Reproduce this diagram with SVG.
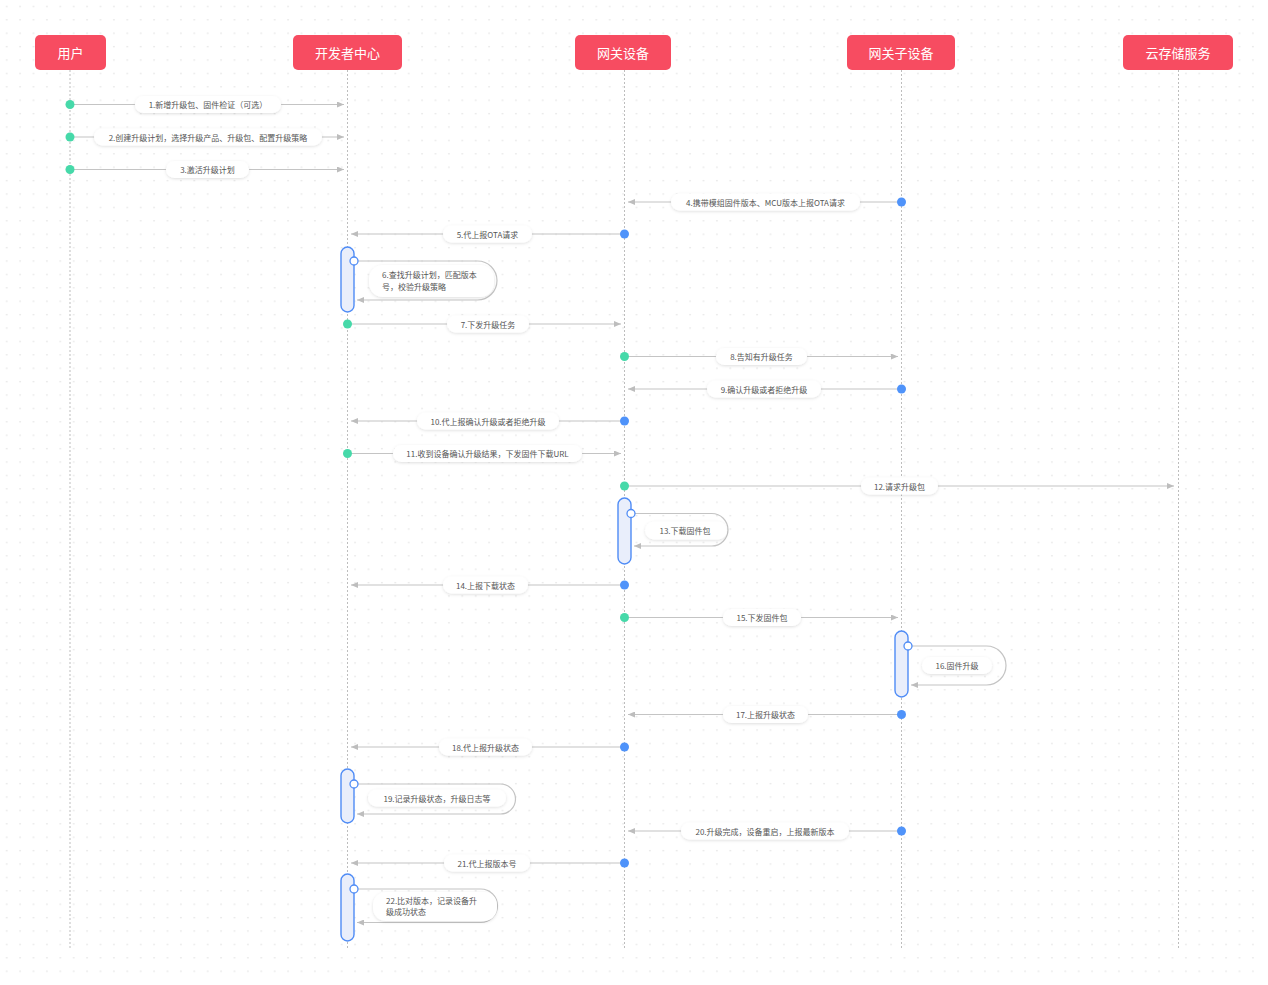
<svg xmlns="http://www.w3.org/2000/svg" width="1268" height="985" viewBox="0 0 1268 985">
<style>
.hdr{fill:#F74C61}
.hdrt{fill:#fff;font-family:"Noto Sans CJK SC","Noto Sans",sans-serif;font-size:13px;text-anchor:middle;dominant-baseline:central}
.life{stroke:#bdbdbd;stroke-width:1;stroke-dasharray:2 2;fill:none}
.msg{stroke:#c4c4c4;stroke-width:1.2;fill:none;marker-end:url(#ah)}
.pill{fill:#fff;filter:url(#sh)}
.lbl{fill:#555;font-family:"Noto Sans CJK SC","Noto Sans",sans-serif;font-size:8px;text-anchor:middle;dominant-baseline:central}
.lbll{fill:#555;font-family:"Noto Sans CJK SC","Noto Sans",sans-serif;font-size:8px;dominant-baseline:central}
.g{fill:#46D9A9}
.b{fill:#4F93FA}
.act{fill:#E9EEFB;stroke:#4F8CF6;stroke-width:1.4}
.ring{fill:#fff;stroke:#4F8CF6;stroke-width:1.3}
.loop{stroke:#c4c4c4;stroke-width:1.2;fill:none;marker-end:url(#ah)}
</style>
<defs>
<pattern id="grid" x="0" y="0" width="13.4" height="13.4" patternUnits="userSpaceOnUse">
<circle cx="6.7" cy="6.4" r="0.75" fill="#dcdcdc"/>
</pattern>
<marker id="ah" markerWidth="7" markerHeight="6" refX="7" refY="3" orient="auto" markerUnits="userSpaceOnUse">
<path d="M0,0 L7,3 L0,6 z" fill="#bdbdbd"/>
</marker>
<filter id="sh" x="-20%" y="-50%" width="140%" height="200%">
<feDropShadow dx="0" dy="1" stdDeviation="1.4" flood-color="#000" flood-opacity="0.13"/>
</filter>
</defs>
<rect x="0" y="0" width="1268" height="985" fill="#fff"/>
<rect x="0" y="0" width="1262" height="982" fill="url(#grid)"/>

<g id="lifelines">
<line class="life" x1="70" y1="70" x2="70" y2="950"/>
<line class="life" x1="347.5" y1="70" x2="347.5" y2="950"/>
<line class="life" x1="624.5" y1="70" x2="624.5" y2="950"/>
<line class="life" x1="901.5" y1="70" x2="901.5" y2="950"/>
<line class="life" x1="1178.5" y1="70" x2="1178.5" y2="950"/>
</g>

<g id="node-user"><rect class="hdr" x="35" y="35" width="71" height="35" rx="5"/><text class="hdrt" x="70.5" y="52.5">用户</text></g>
<g id="node-devcenter"><rect class="hdr" x="293" y="35" width="109" height="35" rx="5"/><text class="hdrt" x="347.5" y="52.5">开发者中心</text></g>
<g id="node-gateway"><rect class="hdr" x="575" y="35" width="96" height="35" rx="5"/><text class="hdrt" x="623" y="52.5">网关设备</text></g>
<g id="node-subdevice"><rect class="hdr" x="847" y="35" width="108" height="35" rx="5"/><text class="hdrt" x="901" y="52.5">网关子设备</text></g>
<g id="node-cloud"><rect class="hdr" x="1123" y="35" width="110" height="35" rx="5"/><text class="hdrt" x="1178" y="52.5">云存储服务</text></g>

<g id="activations">
<rect class="act" x="341" y="247" width="13" height="65" rx="6.5"/>
<rect class="act" x="618" y="498" width="13" height="66" rx="6.5"/>
<rect class="act" x="895" y="631" width="13" height="66" rx="6.5"/>
<rect class="act" x="341" y="769" width="13" height="54" rx="6.5"/>
<rect class="act" x="341" y="874" width="13" height="67" rx="6.5"/>
</g>

<g id="connectors">
<line class="msg" x1="70" y1="104.5" x2="344" y2="104.5"/>
<line class="msg" x1="70" y1="137" x2="344" y2="137"/>
<line class="msg" x1="70" y1="169.5" x2="344" y2="169.5"/>
<line class="msg" x1="901.5" y1="202" x2="628" y2="202"/>
<line class="msg" x1="624.5" y1="234" x2="351" y2="234"/>
<path class="loop" d="M354,261 H477.5 A19.5,19.5 0 0 1 477.5,300 H357"/>
<line class="msg" x1="347.5" y1="324" x2="621" y2="324"/>
<line class="msg" x1="624.5" y1="356.5" x2="898" y2="356.5"/>
<line class="msg" x1="901.5" y1="389" x2="628" y2="389"/>
<line class="msg" x1="624.5" y1="421" x2="351" y2="421"/>
<line class="msg" x1="347.5" y1="453.5" x2="621" y2="453.5"/>
<line class="msg" x1="624.5" y1="486" x2="1174" y2="486"/>
<path class="loop" d="M631,513.5 H711.75 A16.25,16.25 0 0 1 711.75,546 H634"/>
<line class="msg" x1="624.5" y1="585" x2="351" y2="585"/>
<line class="msg" x1="624.5" y1="617.5" x2="898" y2="617.5"/>
<path class="loop" d="M908,646 H986.5 A19.5,19.5 0 0 1 986.5,685 H911"/>
<line class="msg" x1="901.5" y1="714.5" x2="628" y2="714.5"/>
<line class="msg" x1="624.5" y1="747" x2="351" y2="747"/>
<path class="loop" d="M354,784 H500.5 A15,15 0 0 1 500.5,814 H357"/>
<line class="msg" x1="901.5" y1="831" x2="628" y2="831"/>
<line class="msg" x1="624.5" y1="863" x2="351" y2="863"/>
<path class="loop" d="M354,889 H480.75 A16.75,16.75 0 0 1 480.75,922.5 H357"/>
</g>

<g id="dots">
<circle class="g" cx="70" cy="104.5" r="4.5"/>
<circle class="g" cx="70" cy="137" r="4.5"/>
<circle class="g" cx="70" cy="169.5" r="4.5"/>
<circle class="b" cx="901.5" cy="202" r="4.5"/>
<circle class="b" cx="624.5" cy="234" r="4.5"/>
<circle class="ring" cx="354" cy="261" r="4"/>
<circle class="g" cx="347.5" cy="324" r="4.5"/>
<circle class="g" cx="624.5" cy="356.5" r="4.5"/>
<circle class="b" cx="901.5" cy="389" r="4.5"/>
<circle class="b" cx="624.5" cy="421" r="4.5"/>
<circle class="g" cx="347.5" cy="453.5" r="4.5"/>
<circle class="g" cx="624.5" cy="486" r="4.5"/>
<circle class="ring" cx="631" cy="513.5" r="4"/>
<circle class="b" cx="624.5" cy="585" r="4.5"/>
<circle class="g" cx="624.5" cy="617.5" r="4.5"/>
<circle class="ring" cx="908" cy="646" r="4"/>
<circle class="b" cx="901.5" cy="714.5" r="4.5"/>
<circle class="b" cx="624.5" cy="747" r="4.5"/>
<circle class="ring" cx="354" cy="784" r="4"/>
<circle class="b" cx="901.5" cy="831" r="4.5"/>
<circle class="b" cx="624.5" cy="863" r="4.5"/>
<circle class="ring" cx="354" cy="889" r="4"/>
</g>

<g id="labels">
<g id="m1"><rect class="pill" x="135" y="96" width="146" height="17" rx="8.5"/><text class="lbl" x="208" y="104.5">1.新增升级包、固件检证（可选）</text></g>
<g id="m2"><rect class="pill" x="94" y="128.5" width="228" height="17" rx="8.5"/><text class="lbl" x="208" y="137">2.创建升级计划，选择升级产品、升级包、配置升级策略</text></g>
<g id="m3"><rect class="pill" x="166" y="161" width="83" height="17" rx="8.5"/><text class="lbl" x="207.5" y="169.5">3.激活升级计划</text></g>
<g id="m4"><rect class="pill" x="671" y="193.5" width="189" height="17" rx="8.5"/><text class="lbl" x="765.5" y="202">4.携带模组固件版本、MCU版本上报OTA请求</text></g>
<g id="m5"><rect class="pill" x="443" y="225.5" width="89" height="17" rx="8.5"/><text class="lbl" x="487.5" y="234">5.代上报OTA请求</text></g>
<g id="m6"><rect class="pill" x="369" y="265" width="125" height="32" rx="14"/><text class="lbll" x="382" y="274.5">6.查找升级计划，匹配版本</text><text class="lbll" x="382" y="286.5">号，校验升级策略</text></g>
<g id="m7"><rect class="pill" x="447" y="315.5" width="82" height="17" rx="8.5"/><text class="lbl" x="488" y="324">7.下发升级任务</text></g>
<g id="m8"><rect class="pill" x="716" y="348" width="91" height="17" rx="8.5"/><text class="lbl" x="761.5" y="356.5">8.告知有升级任务</text></g>
<g id="m9"><rect class="pill" x="707" y="380.5" width="114" height="17" rx="8.5"/><text class="lbl" x="764" y="389">9.确认升级或者拒绝升级</text></g>
<g id="m10"><rect class="pill" x="417" y="412.5" width="142" height="17" rx="8.5"/><text class="lbl" x="488" y="421">10.代上报确认升级或者拒绝升级</text></g>
<g id="m11"><rect class="pill" x="393" y="445" width="189" height="17" rx="8.5"/><text class="lbl" x="487.5" y="453.5">11.收到设备确认升级结果，下发固件下载URL</text></g>
<g id="m12"><rect class="pill" x="861" y="477.5" width="77" height="17" rx="8.5"/><text class="lbl" x="899.5" y="486">12.请求升级包</text></g>
<g id="m13"><rect class="pill" x="645" y="521.5" width="82" height="18" rx="9"/><text class="lbl" x="685" y="530.5">13.下载固件包</text></g>
<g id="m14"><rect class="pill" x="443" y="576.5" width="85" height="17" rx="8.5"/><text class="lbl" x="485.5" y="585">14.上报下载状态</text></g>
<g id="m15"><rect class="pill" x="723" y="609" width="78" height="17" rx="8.5"/><text class="lbl" x="762" y="617.5">15.下发固件包</text></g>
<g id="m16"><rect class="pill" x="922" y="657" width="70" height="17" rx="8.5"/><text class="lbl" x="957" y="665.5">16.固件升级</text></g>
<g id="m17"><rect class="pill" x="723" y="706" width="85" height="17" rx="8.5"/><text class="lbl" x="765.5" y="714.5">17.上报升级状态</text></g>
<g id="m18"><rect class="pill" x="439" y="738.5" width="93" height="17" rx="8.5"/><text class="lbl" x="485.5" y="747">18.代上报升级状态</text></g>
<g id="m19"><rect class="pill" x="368" y="789.5" width="138" height="17" rx="8.5"/><text class="lbl" x="437" y="798">19.记录升级状态，升级日志等</text></g>
<g id="m20"><rect class="pill" x="681" y="822.5" width="168" height="17" rx="8.5"/><text class="lbl" x="765" y="831">20.升级完成，设备重启，上报最新版本</text></g>
<g id="m21"><rect class="pill" x="444" y="854.5" width="86" height="17" rx="8.5"/><text class="lbl" x="487" y="863">21.代上报版本号</text></g>
<g id="m22"><rect class="pill" x="373" y="892" width="124" height="29" rx="13"/><text class="lbll" x="386" y="900.5">22.比对版本，记录设备升</text><text class="lbll" x="386" y="911.5">级成功状态</text></g>
</g>
</svg>
